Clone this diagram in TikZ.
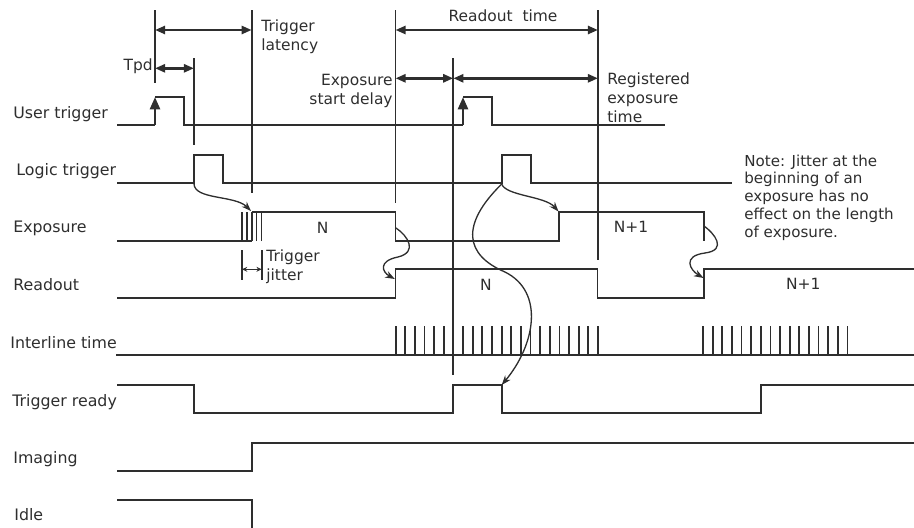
\documentclass[tikz,border=0pt]{standalone}
\usepackage{fontspec}
\setmainfont{DejaVu Sans}
\usetikzlibrary{positioning, arrows.meta}
\definecolor{ink}{HTML}{2E2E2E}
\tikzset{
	sig/.style={
		draw=ink,
		line width=1pt,
	},
	span/.style={
		draw=ink,
		line width=1.5pt,
		<->,
		>={Triangle[length=5.8pt, width=4.6pt]},
	},
	edge/.style={
		draw=ink,
		line width=1.6pt,
		->,
		>={Triangle[length=7pt, width=5.6pt]},
	},
	jit/.style={
		draw=ink,
		line width=0.7pt,
		<->,
		>={Stealth[length=3pt, width=2.8pt]},
	},
	cause/.style={
		draw=ink,
		line width=0.75pt,
		->,
		>={Stealth[length=5.5pt, width=4pt]},
	},
	row/.style={
		anchor=base west,
		inner sep=0pt,
		text=ink,
		font=\fontsize{9}{10.8}\selectfont,
	},
	tag/.style={
		inner sep=0pt,
		text=ink,
		font=\fontsize{8.8}{10.8}\selectfont,
	},
}

\begin{document}
\begin{tikzpicture}[x=0.02cm, y=-0.02cm, >=stealth]
	\useasboundingbox (0,0) rectangle (914,528);

	% signal names
	\node [row] (user) at (13,118.5) {User trigger};
	\node [row] (logic) at (16,175.5) {Logic trigger};
	\node [row] (expo) at (13,232.5) {Exposure};
	\node [row] (rdout) at (13,290.5) {Readout};
	\node [row] (iline) at (10,348.5) {Interline time};
	\node [row] (ready) at (12,406) {Trigger ready};
	\node [row] (imaging) at (13,463.5) {Imaging};
	\node [row] (idle) at (14,520) {Idle};

	% guide lines
	\draw [sig] (155,10) -- (155,83);
	\draw [sig] (194,58) -- (194,145);
	\draw [sig] (251.7,10) -- (251.7,193);
	\draw [sig] (395.5,10) -- (395.5,203);
	\draw [sig] (453.3,58) -- (453.3,375);
	\draw [sig] (598,10) -- (598,260);

	% time spans
	\coordinate (lat0) at (155,30);
	\coordinate (lat1) at (251.7,30);
	\coordinate (tpd0) at (155,68.3);
	\coordinate (tpd1) at (194,68.3);
	\coordinate (ro0) at (395.5,30);
	\coordinate (ro1) at (598,30);
	\coordinate (esd0) at (395.5,78.3);
	\coordinate (esd1) at (453.3,78.3);
	\coordinate (reg1) at (598,78.3);
	\draw [span] (lat0) -- (lat1);
	\draw [span] (tpd0) -- (tpd1);
	\draw [span] (ro0) -- (ro1);
	\draw [span] (esd0) -- (esd1);
	\draw [span] (esd1) -- (reg1);

	\node [tag, anchor=east] (tpdlbl) at (153,66) {Tpd};
	\node [tag, anchor=west, align=left] (latlbl) at (261,36.5) {Trigger\\latency};
	\node [tag] (rolbl) at (503,16) {Readout\ \ time};
	\node [tag, anchor=east, align=right] (esdlbl) at (393,90.5) {Exposure\\start delay};
	\node [tag, anchor=west, align=left] (reglbl) at (607,98) {Registered\\exposure\\time};
	\node [tag, anchor=west, align=left] (jitlbl) at (266,266.5) {Trigger\\jitter};
	\node [tag, anchor=west, align=left, font=\fontsize{8.6}{10.1}\selectfont] (note) at (744,197.5)
		{Note: Jitter at the\\beginning of an\\exposure has no\\effect on the length\\of exposure.};

	% user trigger
	\draw [sig] (117,125) -- (155,125);
	\draw [edge] (155,125) -- (155,97);
	\draw [sig] (155,97) -- (184,97) -- (184,125) -- (463,125);
	\draw [edge] (463,125) -- (463,97);
	\draw [sig] (463,97) -- (492,97) -- (492,125) -- (665,125);

	% logic trigger
	\draw [sig] (117,183) -- (194,183) -- (194,155) -- (223,155) -- (223,183) -- (501.7,183)
		-- (501.7,155) -- (531,155) -- (531,183) -- (732,183);

	% exposure
	\draw [sig] (117,241) -- (251.7,241);
	\foreach \x in {242,246.8,251.7,256.6,261.5}
		\draw [sig] (\x,241) -- (\x,212);
	\draw [sig] (251.7,212) -- (395.5,212) -- (395.5,241) -- (559,241) -- (559,212) -- (704,212) -- (704,241);
	\node [tag] (expn) at (322.7,227.7) {N};
	\node [tag] (expn1) at (631,227.3) {N+1};

	% trigger jitter
	\draw [sig] (242,250) -- (242,280);
	\draw [sig] (261.7,250) -- (261.7,280);
	\coordinate (jit0) at (242,269.3);
	\coordinate (jit1) at (261.7,269.3);
	\draw [jit] (jit0) -- (jit1);

	% readout
	\draw [sig] (117,298) -- (395.5,298) -- (395.5,269) -- (597.5,269) -- (597.5,298) -- (704,298) -- (704,269) -- (914,269);
	\node [tag] (rdn) at (486,285) {N};
	\node [tag] (rdn1) at (803.3,284.3) {N+1};

	% interline time
	\draw [sig] (116,355) -- (914,355);
	\foreach \i in {0,...,21}
		\draw [sig] ({395.7+9.63*\i},355) -- ++(0,-29.5);
	\foreach \i in {0,...,15}
		\draw [sig] ({703+9.63*\i},355) -- ++(0,-29.5);

	% trigger ready, imaging, idle
	\draw [sig] (117,385) -- (194.3,385) -- (194.3,413) -- (453.3,413) -- (453.3,385) -- (501.7,385)
		-- (501.7,413) -- (761,413) -- (761,385) -- (914,385);
	\draw [sig] (117,471) -- (251.7,471) -- (251.7,442.7) -- (914,442.7);
	\draw [sig] (117,500) -- (251.7,500) -- (251.7,528);

	% causes
	\coordinate (lt1) at (194,183.5);
	\coordinate (jt) at (251,211);
	\coordinate (xf1) at (396,228);
	\coordinate (rr1) at (394.8,279);
	\coordinate (lt2) at (501.7,184);
	\coordinate (ex2) at (558.5,211.5);
	\coordinate (tr2) at (501.7,385);
	\coordinate (xf2) at (704,226);
	\coordinate (rr2) at (703.5,278);
	\draw [cause] (lt1) .. controls (194,200) and (235,195) .. (jt);
	\draw [cause] (xf1) .. controls (408,236) and (418,252) .. (398,257) .. controls (378,261) and (382,272) .. (rr1);
	\draw [cause] (lt2) .. controls (506,196) and (545,196) .. (ex2);
	\draw [cause] (lt2) .. controls (460,225) and (465,255) .. (505,272) .. controls (545,292) and (535,345) .. (tr2);
	\draw [cause] (xf2) .. controls (714,233) and (728,250) .. (705,253) .. controls (682,256) and (690,270) .. (rr2);
\end{tikzpicture}
\end{document}
